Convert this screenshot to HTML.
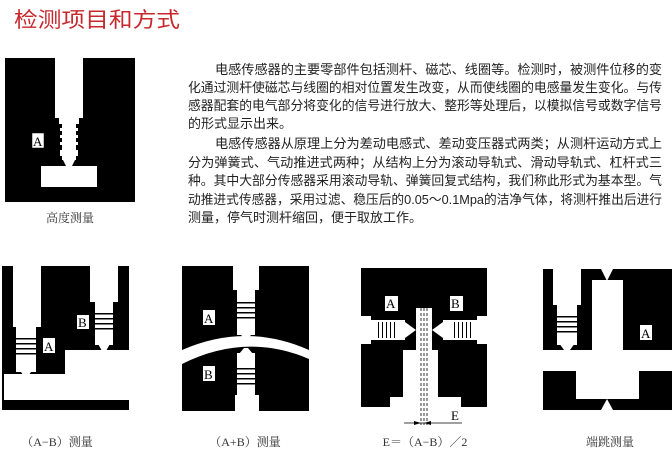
<!DOCTYPE html>
<html><head><meta charset="utf-8"><style>
html,body{margin:0;padding:0;background:#fff;width:672px;height:454px;overflow:hidden}
svg{display:block}
.t{font-family:"Liberation Sans","Noto Sans CJK SC",sans-serif;font-size:13px;fill:#222}
.c{font-family:"Liberation Serif","Noto Serif CJK SC",serif;font-size:12px;fill:#333}
.l{font-family:"Liberation Serif",serif;font-size:13px;fill:#000}
</style></head><body>
<svg width="672" height="454" viewBox="0 0 672 454" xmlns="http://www.w3.org/2000/svg">
<text x="14" y="27" font-family="Liberation Sans,'Noto Sans CJK SC',sans-serif" font-size="21" fill="#c8282c" textLength="166" lengthAdjust="spacingAndGlyphs">检测项目和方式</text>

<!-- Panel 1 -->
<rect x="5" y="58" width="130" height="144" fill="#000"/>
<rect x="55" y="58" width="28" height="60" fill="#fff"/>
<rect x="59" y="118" width="20" height="6" fill="#fff"/>
<g fill="#fff">
<rect x="62" y="124" width="14" height="36"/>
<rect x="60" y="128" width="18" height="3"/><rect x="60" y="135" width="18" height="3"/><rect x="60" y="142" width="18" height="3"/><rect x="60" y="150" width="18" height="6"/>
<polygon points="63,160 75,160 72,166 66,166"/>
<rect x="41" y="166" width="56" height="21"/>
<rect x="32" y="133" width="12" height="15" stroke="#000" stroke-width="0.5"/>
</g>
<text x="33" y="146" class="l">A</text>
<text x="70" y="222" class="c" text-anchor="middle">高度测量</text>

<!-- paragraph -->
<g class="t">
<text x="215" y="74" textLength="447" lengthAdjust="spacingAndGlyphs">电感传感器的主要零部件包括测杆、磁芯、线圈等。检测时，被测件位移的变</text>
<text x="188" y="92" textLength="474" lengthAdjust="spacingAndGlyphs">化通过测杆使磁芯与线圈的相对位置发生改变，从而使线圈的电感量发生变化。与传</text>
<text x="188" y="110" textLength="474" lengthAdjust="spacingAndGlyphs">感器配套的电气部分将变化的信号进行放大、整形等处理后，以模拟信号或数字信号</text>
<text x="188" y="128">的形式显示出来。</text>
<text x="215" y="148" textLength="447" lengthAdjust="spacingAndGlyphs">电感传感器从原理上分为差动电感式、差动变压器式两类；从测杆运动方式上</text>
<text x="188" y="167" textLength="474" lengthAdjust="spacingAndGlyphs">分为弹簧式、气动推进式两种；从结构上分为滚动导轨式、滑动导轨式、杠杆式三</text>
<text x="188" y="185" textLength="474" lengthAdjust="spacingAndGlyphs">种。其中大部分传感器采用滚动导轨、弹簧回复式结构，我们称此形式为基本型。气</text>
<text x="188" y="204" textLength="474" lengthAdjust="spacingAndGlyphs">动推进式传感器，采用过滤、稳压后的0.05～0.1Mpa的洁净气体，将测杆推出后进行</text>
<text x="188" y="222">测量，停气时测杆缩回，便于取放工作。</text>
</g>

<!-- Panel 2 A-B -->
<rect x="2" y="266" width="127" height="144" fill="#000"/>
<g fill="#fff">
<rect x="4" y="374" width="125" height="26"/>
<rect x="65" y="350" width="64" height="24"/>
<rect x="13" y="266" width="28" height="61"/>
<rect x="90" y="266" width="28" height="36"/>
<rect x="16" y="327" width="20" height="45"/><polygon points="18,368 34,368 28,376 24,376"/>
<rect x="95" y="302" width="18" height="43"/><polygon points="97,342 111,342 106,351 102,351"/>
<rect x="77" y="315" width="12" height="14"/><rect x="43" y="338" width="12" height="15"/>
</g>
<g fill="#000"><rect x="16" y="338" width="20" height="1.5"/><rect x="16" y="343" width="20" height="1.5"/><rect x="16" y="348" width="20" height="1.5"/><rect x="16" y="353" width="20" height="1.5"/>
<rect x="95" y="313" width="18" height="1.5"/><rect x="95" y="318" width="18" height="1.5"/><rect x="95" y="323" width="18" height="1.5"/><rect x="95" y="328" width="18" height="1.5"/></g>
<text x="78" y="327" class="l">B</text><text x="44" y="351" class="l">A</text>
<text x="57" y="446" class="c" text-anchor="middle">（A−B）测量</text>

<!-- Panel 3 A+B -->
<rect x="182" y="266" width="127" height="145" fill="#000"/>
<g fill="#fff">
<rect x="233" y="266" width="26" height="24"/>
<rect x="237" y="290" width="18" height="45"/><polygon points="239,332 253,332 248,339 244,339"/>
<path d="M182,350 Q246,322 309,350 L309,359 Q246,332 182,364 Z"/>
<polygon points="244,348 248,348 253,354 239,354"/>
<rect x="237" y="353" width="18" height="42"/>
<rect x="235" y="395" width="24" height="16"/>
<rect x="203" y="310" width="12" height="15"/><rect x="203" y="366" width="12" height="15"/>
</g>
<g fill="#000"><rect x="237" y="302" width="18" height="1.5"/><rect x="237" y="307" width="18" height="1.5"/><rect x="237" y="312" width="18" height="1.5"/><rect x="237" y="317" width="18" height="1.5"/>
<rect x="237" y="368" width="18" height="1.5"/><rect x="237" y="373" width="18" height="1.5"/><rect x="237" y="378" width="18" height="1.5"/><rect x="237" y="383" width="18" height="1.5"/></g>
<text x="204" y="323" class="l">A</text><text x="204" y="379" class="l">B</text>
<text x="245" y="446" class="c" text-anchor="middle">（A+B）测量</text>

<!-- Panel 4 E -->
<rect x="361" y="268" width="126" height="139" fill="#000"/>
<g fill="#fff">
<rect x="390" y="397" width="71" height="10"/>
<rect x="403" y="350" width="35" height="47"/>
<rect x="416" y="308" width="16" height="42"/>
<rect x="361" y="316" width="10" height="28"/><rect x="371" y="320" width="34" height="20"/><polygon points="405,322 416,330 405,338"/>
<rect x="477" y="316" width="10" height="28"/><rect x="443" y="320" width="34" height="20"/><polygon points="443,322 432,330 443,338"/>
<rect x="385" y="296" width="13" height="15"/><rect x="450" y="296" width="13" height="15"/>
</g>
<g fill="#000"><rect x="378" y="322" width="1" height="16"/><rect x="382" y="322" width="1" height="16"/><rect x="386" y="322" width="1" height="16"/><rect x="390" y="322" width="1" height="16"/><rect x="394" y="322" width="1" height="16"/>
<rect x="454" y="322" width="1" height="16"/><rect x="458" y="322" width="1" height="16"/><rect x="462" y="322" width="1" height="16"/><rect x="466" y="322" width="1" height="16"/><rect x="470" y="322" width="1" height="16"/></g>
<g stroke="#000" stroke-width="0.8" stroke-dasharray="3,2"><line x1="421" y1="308" x2="421" y2="425"/><line x1="424" y1="308" x2="424" y2="425"/><line x1="427" y1="308" x2="427" y2="425"/></g>
<line x1="404" y1="423" x2="462" y2="423" stroke="#000" stroke-width="0.8"/>
<polygon points="421,423 414,421 414,425" fill="#000"/><polygon points="424,423 431,421 431,425" fill="#000"/>
<text x="386" y="308" class="l">A</text><text x="451" y="308" class="l">B</text>
<text x="451" y="420" class="l">E</text>
<text x="425" y="446" class="c" text-anchor="middle">E＝（A−B）／2</text>

<!-- Panel 5 端跳 -->
<rect x="543" y="269" width="129" height="81" fill="#000"/>
<rect x="543" y="371" width="129" height="39" fill="#000"/>
<g fill="#fff">
<rect x="553" y="269" width="28" height="36"/>
<rect x="557" y="305" width="20" height="40"/><polygon points="559,343 575,343 570,350 564,350"/>
<rect x="592" y="280" width="31" height="70"/>
<polygon points="601,269 613,269 607,281"/>
<rect x="576" y="371" width="63" height="28"/>
<polygon points="607,399 613,410 601,410"/>
<rect x="640" y="325" width="12" height="15"/>
</g>
<g fill="#000"><rect x="557" y="316" width="20" height="1.5"/><rect x="557" y="321" width="20" height="1.5"/><rect x="557" y="326" width="20" height="1.5"/><rect x="557" y="331" width="20" height="1.5"/></g>
<text x="641" y="338" class="l">A</text>
<text x="610" y="446" class="c" text-anchor="middle">端跳测量</text>
</svg>
</body></html>
